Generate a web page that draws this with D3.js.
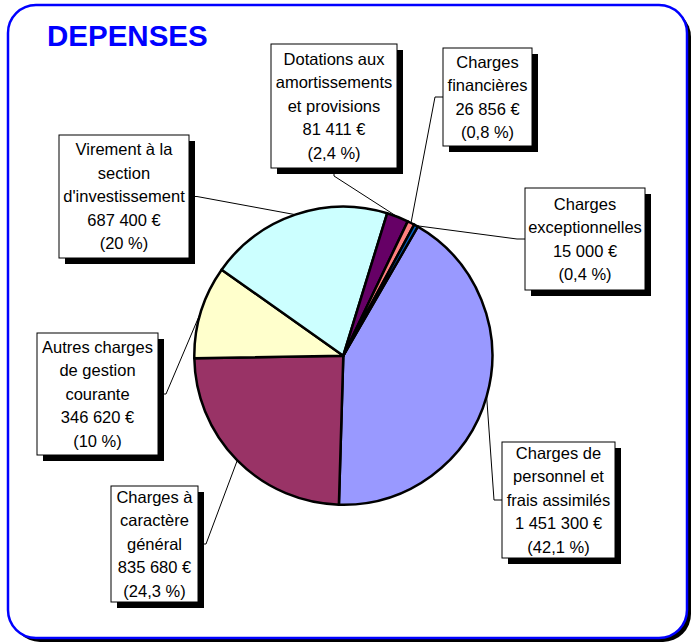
<!DOCTYPE html>
<html>
<head>
<meta charset="utf-8">
<script src="https://cdn.jsdelivr.net/npm/d3@7"></script>
<style>
  body { margin: 0; background: #fff; }
  svg { display: block; font-family: "Liberation Sans", Arial, sans-serif; }
</style>
</head>
<body>
<div id="chart"></div>
<script>
// Data
const categories = [
  "Charges de personnel et frais assimilés",
  "Charges à caractère général",
  "Autres charges de gestion courante",
  "Virement à la section d'investissement",
  "Dotations aux amortissements et provisions",
  "Charges financières",
  "Charges exceptionnelles"
];
const nameLines = [
  ["Charges de", "personnel et", "frais assimilés"],
  ["Charges à", "caractère", "général"],
  ["Autres charges", "de gestion", "courante"],
  ["Virement à la", "section", "d'investissement"],
  ["Dotations aux", "amortissements", "et provisions"],
  ["Charges", "financières"],
  ["Charges", "exceptionnelles"]
];
const values = [1451300, 835680, 346620, 687400, 81411, 26856, 15000];
const percentLabels = ["(42,1 %)", "(24,3 %)", "(10 %)", "(20 %)", "(2,4 %)", "(0,8 %)", "(0,4 %)"];
const colors = ["#9999FF", "#993366", "#FFFFCC", "#CCFFFF", "#660066", "#FF8080", "#0066CC"];

// Label box layout: x, y, w, h and which side the leader leaves from
const boxes = [
  { x: 502, y: 442, w: 113, h: 116, side: "left" },
  { x: 111, y: 486, w: 87, h: 116, side: "right" },
  { x: 37, y: 333, w: 121, h: 122, side: "right" },
  { x: 59, y: 135, w: 130, h: 123, side: "right" },
  { x: 271, y: 44, w: 126, h: 124, side: "bottom" },
  { x: 443, y: 48, w: 89, h: 98, side: "left" },
  { x: 525, y: 188, w: 120, h: 102, side: "left" }
];

const width = 699, height = 644;
const cx = 343.3, cy = 355.7, r = 149;
const lineH = 23.5;
const shadow = 6;

const fr = d3.formatLocale({ decimal: ",", thousands: "\u00a0", grouping: [3], currency: ["", " €"] });
const fmtValue = v => fr.format(",")(v) + " €";

const svg = d3.select("#chart").append("svg")
  .attr("width", width)
  .attr("height", height);

// Frame with shadow
svg.append("rect")
  .attr("x", 12).attr("y", 9)
  .attr("width", 679).attr("height", 633)
  .attr("rx", 28).attr("ry", 28)
  .attr("fill", "#000");
svg.append("rect")
  .attr("x", 8).attr("y", 5)
  .attr("width", 679).attr("height", 633)
  .attr("rx", 28).attr("ry", 28)
  .attr("fill", "#fff")
  .attr("stroke", "#0000FF")
  .attr("stroke-width", 2.5);

svg.append("text")
  .attr("x", 47).attr("y", 46)
  .attr("fill", "#0000FF")
  .attr("font-size", 29.5)
  .attr("font-weight", "bold")
  .text("DEPENSES");

// Pie
const start = 30 * Math.PI / 180;
const pie = d3.pie().sort(null).startAngle(start).endAngle(start + 2 * Math.PI);
const arcs = pie(values);
const arc = d3.arc().innerRadius(0).outerRadius(r);
const edgeArc = d3.arc().innerRadius(r).outerRadius(r);

const g = svg.append("g").attr("transform", `translate(${cx},${cy})`);

// Leader lines
const leaders = svg.append("g");
arcs.forEach((d, i) => {
  const b = boxes[i];
  const [px, py] = edgeArc.centroid(d);
  let p0, p1;
  if (b.side === "left") {
    p0 = [b.x, b.y + b.h / 2];
    p1 = [b.x - 8, b.y + b.h / 2];
  } else if (b.side === "right") {
    p0 = [b.x + b.w, b.y + b.h / 2];
    p1 = [b.x + b.w + 8, b.y + b.h / 2];
  } else {
    p0 = [b.x + b.w / 2, b.y + b.h];
    p1 = [b.x + b.w / 2, b.y + b.h + 8];
  }
  leaders.append("path")
    .attr("d", d3.line()([p0, p1, [cx + px, cy + py]]))
    .attr("fill", "none")
    .attr("stroke", "#000")
    .attr("stroke-width", 1);
});

g.selectAll("path.slice")
  .data(arcs)
  .enter()
  .append("path")
  .attr("class", "slice")
  .attr("d", arc)
  .attr("fill", (d, i) => colors[i])
  .attr("stroke", "#000")
  .attr("stroke-width", 2.5)
  .attr("stroke-linejoin", "round");

// Label boxes
const labels = svg.append("g");
arcs.forEach((d, i) => {
  const b = boxes[i];
  const lines = nameLines[i].concat([fmtValue(values[i]), percentLabels[i]]);
  const lg = labels.append("g");
  lg.append("rect")
    .attr("x", b.x + shadow).attr("y", b.y + shadow)
    .attr("width", b.w).attr("height", b.h)
    .attr("fill", "#000");
  lg.append("rect")
    .attr("x", b.x).attr("y", b.y)
    .attr("width", b.w).attr("height", b.h)
    .attr("fill", "#fff")
    .attr("stroke", "#000")
    .attr("stroke-width", 1);
  const mid = b.y + b.h / 2;
  lines.forEach((t, j) => {
    lg.append("text")
      .attr("x", b.x + b.w / 2)
      .attr("y", mid + (j - (lines.length - 1) / 2) * lineH)
      .attr("dy", "0.35em")
      .attr("text-anchor", "middle")
      .attr("font-size", 16.5)
      .attr("fill", "#000")
      .text(t);
  });
});
</script>
</body>
</html>
